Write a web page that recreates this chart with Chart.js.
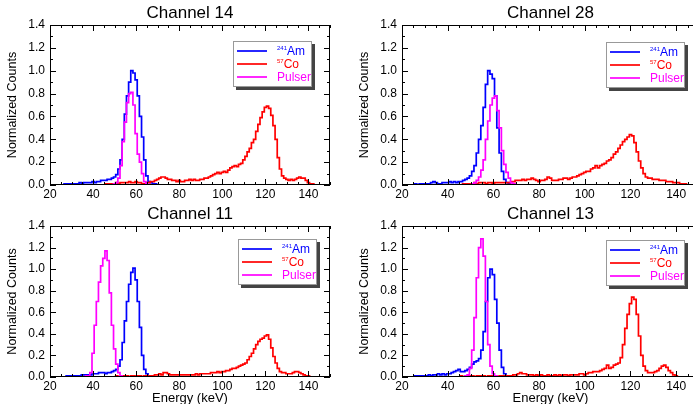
<!DOCTYPE html>
<html>
<head>
<meta charset="utf-8">
<script src="https://cdn.jsdelivr.net/npm/chart.js@4.4.0/dist/chart.umd.min.js"></script>
<style>
    html, body { margin: 0; padding: 0; background: #fff; overflow: hidden; width: 693px; height: 404px; }
    .painel { position: absolute; }
</style>
</head>
<body>
<canvas id="c14" class="painel" width="343" height="200" style="left:0;top:0"></canvas>
<canvas id="c28" class="painel" width="360" height="200" style="left:343px;top:0"></canvas>
<canvas id="c11" class="painel" width="343" height="204" style="left:0;top:200px"></canvas>
<canvas id="c13" class="painel" width="360" height="204" style="left:343px;top:200px"></canvas>
<script>
// tick labels
const xTicks = [20, 40, 60, 80, 100, 120, 140];
const yTicks = [0.0, 0.2, 0.4, 0.6, 0.8, 1.0, 1.2, 1.4];
const seriesNames = ['241|Am', '57|Co', '|Pulser'];

// histograms, 1 keV bins, first value is the bin at *Start keV
// Channel 14
const am14Start = 25;
const am14 = [0.00, 0.00, 0.01, 0.01, 0.01, 0.01, 0.01, 0.01, 0.01, 0.02, 0.01, 0.02, 0.02, 0.02, 0.02, 0.03, 0.02, 0.03, 0.03, 0.04,
    0.04, 0.04, 0.05, 0.05, 0.06, 0.07, 0.09, 0.14, 0.22, 0.40, 0.62, 0.78, 0.90, 1.00, 0.98, 0.92, 0.78, 0.60, 0.42, 0.22,
    0.08, 0.03, 0.02, 0.01, 0.01, 0.00];
const co14Start = 45;
const co14 = [0.00, 0.01, 0.01, 0.01, 0.01, 0.01, 0.02, 0.01, 0.02, 0.02, 0.02, 0.02, 0.03, 0.02, 0.02, 0.03, 0.02, 0.02, 0.01, 0.01,
    0.02, 0.02, 0.03, 0.03, 0.04, 0.05, 0.06, 0.07, 0.07, 0.06, 0.05, 0.05, 0.04, 0.04, 0.03, 0.04, 0.03, 0.03, 0.04, 0.04,
    0.05, 0.04, 0.05, 0.04, 0.04, 0.05, 0.05, 0.06, 0.06, 0.07, 0.08, 0.09, 0.10, 0.11, 0.10, 0.11, 0.12, 0.11, 0.13, 0.15,
    0.16, 0.17, 0.16, 0.18, 0.19, 0.22, 0.25, 0.29, 0.32, 0.37, 0.40, 0.47, 0.53, 0.59, 0.64, 0.68, 0.69, 0.67, 0.61, 0.52,
    0.40, 0.24, 0.14, 0.08, 0.06, 0.05, 0.04, 0.05, 0.04, 0.05, 0.06, 0.07, 0.06, 0.06, 0.04, 0.02, 0.01, 0.01, 0.00, 0.00, 0.00];
const pul14Start = 45;
const pul14 = [0.00, 0.00, 0.00, 0.00, 0.00, 0.01, 0.02, 0.06, 0.17, 0.38, 0.55, 0.72, 0.80, 0.81, 0.70, 0.45, 0.27, 0.20, 0.10, 0.03,
    0.01, 0.00];

// Channel 28
const am28Start = 25;
const am28 = [0.00, 0.01, 0.00, 0.01, 0.01, 0.01, 0.01, 0.01, 0.02, 0.03, 0.02, 0.01, 0.01, 0.02, 0.02, 0.02, 0.03, 0.02, 0.03, 0.02,
    0.03, 0.03, 0.04, 0.05, 0.06, 0.08, 0.12, 0.17, 0.28, 0.40, 0.52, 0.68, 0.88, 1.00, 0.97, 0.93, 0.78, 0.50, 0.28, 0.12,
    0.05, 0.02, 0.01, 0.00];
const co28Start = 45;
const co28 = [0.00, 0.00, 0.01, 0.01, 0.01, 0.01, 0.01, 0.02, 0.01, 0.02, 0.02, 0.02, 0.01, 0.02, 0.02, 0.01, 0.02, 0.02, 0.02, 0.02,
    0.02, 0.02, 0.02, 0.03, 0.03, 0.04, 0.04, 0.04, 0.05, 0.04, 0.05, 0.05, 0.06, 0.05, 0.04, 0.03, 0.04, 0.04, 0.05, 0.07,
    0.06, 0.04, 0.04, 0.04, 0.05, 0.05, 0.06, 0.06, 0.05, 0.06, 0.07, 0.07, 0.08, 0.09, 0.10, 0.11, 0.12, 0.12, 0.14, 0.15,
    0.17, 0.15, 0.17, 0.18, 0.19, 0.21, 0.22, 0.24, 0.27, 0.29, 0.32, 0.35, 0.38, 0.40, 0.42, 0.44, 0.43, 0.37, 0.29, 0.21,
    0.15, 0.10, 0.07, 0.06, 0.06, 0.05, 0.05, 0.05, 0.04, 0.04, 0.04, 0.03, 0.03, 0.03, 0.02, 0.02, 0.02, 0.01, 0.01, 0.01,
    0.00, 0.00, 0.00];
const pul28Start = 48;
const pul28 = [0.00, 0.00, 0.00, 0.01, 0.02, 0.04, 0.07, 0.13, 0.22, 0.40, 0.56, 0.70, 0.76, 0.78, 0.65, 0.50, 0.30, 0.18, 0.11, 0.06,
    0.02, 0.01, 0.00];

// Channel 11
const am11Start = 25;
const am11 = [0.00, 0.00, 0.00, 0.01, 0.01, 0.01, 0.01, 0.01, 0.01, 0.01, 0.02, 0.02, 0.02, 0.02, 0.02, 0.03, 0.03, 0.03, 0.04, 0.04,
    0.04, 0.03, 0.04, 0.04, 0.05, 0.06, 0.07, 0.10, 0.16, 0.32, 0.52, 0.70, 0.86, 0.97, 1.01, 0.90, 0.70, 0.46, 0.20, 0.07,
    0.03, 0.01, 0.00];
const co11Start = 45;
const co11 = [0.00, 0.00, 0.00, 0.00, 0.00, 0.00, 0.01, 0.00, 0.00, 0.01, 0.00, 0.01, 0.00, 0.01, 0.01, 0.00, 0.01, 0.01, 0.00, 0.01,
    0.01, 0.01, 0.01, 0.01, 0.02, 0.02, 0.03, 0.02, 0.04, 0.04, 0.03, 0.02, 0.02, 0.02, 0.02, 0.02, 0.02, 0.02, 0.02, 0.02,
    0.02, 0.02, 0.02, 0.03, 0.02, 0.03, 0.03, 0.03, 0.03, 0.03, 0.04, 0.04, 0.04, 0.05, 0.04, 0.05, 0.05, 0.06, 0.06, 0.07,
    0.08, 0.08, 0.09, 0.10, 0.11, 0.12, 0.13, 0.16, 0.19, 0.22, 0.26, 0.30, 0.33, 0.35, 0.36, 0.38, 0.39, 0.35, 0.27, 0.19,
    0.13, 0.08, 0.05, 0.04, 0.04, 0.03, 0.03, 0.03, 0.04, 0.05, 0.05, 0.04, 0.03, 0.02, 0.01, 0.01, 0.00, 0.00];
const pul11Start = 34;
const pul11 = [0.00, 0.00, 0.00, 0.01, 0.01, 0.04, 0.22, 0.48, 0.70, 0.88, 1.03, 1.10, 1.17, 1.08, 0.78, 0.48, 0.26, 0.12, 0.04, 0.01,
    0.00];

// Channel 13
const am13Start = 25;
const am13 = [0.01, 0.01, 0.01, 0.01, 0.01, 0.01, 0.01, 0.02, 0.01, 0.02, 0.02, 0.03, 0.02, 0.03, 0.02, 0.03, 0.03, 0.04, 0.05, 0.06,
    0.07, 0.05, 0.05, 0.06, 0.07, 0.09, 0.12, 0.14, 0.15, 0.17, 0.25, 0.42, 0.70, 0.92, 1.00, 0.95, 0.72, 0.50, 0.25, 0.09,
    0.03, 0.01, 0.00];
const co13Start = 45;
const co13 = [0.00, 0.01, 0.00, 0.01, 0.01, 0.01, 0.01, 0.00, 0.01, 0.01, 0.01, 0.01, 0.00, 0.01, 0.01, 0.01, 0.01, 0.00, 0.01, 0.01,
    0.01, 0.01, 0.01, 0.01, 0.02, 0.02, 0.03, 0.04, 0.03, 0.03, 0.02, 0.02, 0.02, 0.01, 0.02, 0.01, 0.02, 0.01, 0.01, 0.02,
    0.01, 0.01, 0.02, 0.01, 0.02, 0.01, 0.02, 0.02, 0.01, 0.02, 0.02, 0.02, 0.02, 0.03, 0.03, 0.02, 0.03, 0.04, 0.04, 0.05,
    0.05, 0.05, 0.06, 0.07, 0.08, 0.11, 0.08, 0.09, 0.11, 0.12, 0.13, 0.18, 0.30, 0.45, 0.58, 0.68, 0.74, 0.72, 0.58, 0.38,
    0.20, 0.10, 0.06, 0.04, 0.04, 0.04, 0.05, 0.06, 0.08, 0.10, 0.11, 0.09, 0.06, 0.04, 0.02, 0.01, 0.00, 0.00];
const pul13Start = 44;
const pul13 = [0.00, 0.00, 0.00, 0.00, 0.01, 0.02, 0.08, 0.25, 0.55, 0.92, 1.20, 1.28, 1.12, 0.70, 0.30, 0.10, 0.03, 0.01, 0.00];

const cores = ['#0000ff', '#ff0000', '#ff00ff'];
const fonte = 'Helvetica, Arial, "Liberation Sans", sans-serif';

const paineis = [
    { id: 'c14', titulo: 'Channel 14', eixoX: false, area: { left: 50, top: 25, right: 330, bottom: 185 }, legenda: { x: 233, y: 41 },
      series: [[am14Start, am14], [co14Start, co14], [pul14Start, pul14]] },
    { id: 'c28', titulo: 'Channel 28', eixoX: false, area: { left: 59, top: 25, right: 356, bottom: 185 }, legenda: { x: 263, y: 42 },
      series: [[am28Start, am28], [co28Start, co28], [pul28Start, pul28]] },
    { id: 'c11', titulo: 'Channel 11', eixoX: true, area: { left: 50, top: 26, right: 330, bottom: 177 }, legenda: { x: 238, y: 39 },
      series: [[am11Start, am11], [co11Start, co11], [pul11Start, pul11]] },
    { id: 'c13', titulo: 'Channel 13', eixoX: true, area: { left: 59, top: 26, right: 356, bottom: 177 }, legenda: { x: 263, y: 40 },
      series: [[am13Start, am13], [co13Start, co13], [pul13Start, pul13]] }
];

function paraPontos(inicio, valores) {
    return valores.map((v, i) => ({ x: inicio + i, y: v }));
}

function criarMoldura(painel) {
    return {
        id: 'moldura',
        afterDraw(chart) {
            const { ctx, chartArea: a, scales: { x, y } } = chart;
            ctx.save();
            ctx.strokeStyle = '#000';
            ctx.lineWidth = 1;
            ctx.strokeRect(Math.round(a.left) + 0.5, Math.round(a.top) + 0.5, Math.round(a.right - a.left) - 1, Math.round(a.bottom - a.top) - 1);

            // ticks pointing inward on all four sides
            ctx.beginPath();
            for (let v = 20; v <= 150; v += 5) {
                const px = Math.round(x.getPixelForValue(v)) + 0.5;
                const len = xTicks.includes(v) ? 6 : 3;
                ctx.moveTo(px, a.bottom); ctx.lineTo(px, a.bottom - len);
                ctx.moveTo(px, a.top); ctx.lineTo(px, a.top + len);
            }
            for (let k = 0; k <= 14; k++) {
                const py = Math.round(y.getPixelForValue(k / 10)) + 0.5;
                const len = k % 2 == 0 ? 6 : 3;
                ctx.moveTo(a.left, py); ctx.lineTo(a.left + len, py);
                ctx.moveTo(a.right, py); ctx.lineTo(a.right - len, py);
            }
            ctx.stroke();

            // title and axis titles
            ctx.fillStyle = '#000';
            ctx.textAlign = 'center';
            ctx.textBaseline = 'middle';
            ctx.font = `17px ${fonte}`;
            ctx.fillText(painel.titulo, (a.left + a.right) / 2, a.top - 12);
            ctx.font = `12.5px ${fonte}`;
            ctx.save();
            ctx.translate(a.left - 37, (a.top + a.bottom) / 2);
            ctx.rotate(-Math.PI / 2);
            ctx.fillText('Normalized Counts', 0, 0);
            ctx.restore();
            if (painel.eixoX) {
                ctx.font = `13px ${fonte}`;
                ctx.fillText('Energy (keV)', (a.left + a.right) / 2, a.bottom + 21);
            }

            // legend box with shadow
            const L = painel.legenda;
            ctx.fillStyle = '#444';
            ctx.fillRect(L.x + 3, L.y + 3, 79, 46);
            ctx.fillStyle = '#fff';
            ctx.fillRect(L.x, L.y, 79, 46);
            ctx.strokeStyle = '#999';
            ctx.strokeRect(L.x + 0.5, L.y + 0.5, 78, 45);
            seriesNames.forEach((nome, i) => {
                const ly = L.y + 10 + i * 13;
                ctx.strokeStyle = cores[i];
                ctx.lineWidth = 1.7;
                ctx.beginPath();
                ctx.moveTo(L.x + 4, ly); ctx.lineTo(L.x + 34, ly);
                ctx.stroke();
                const [sup, txt] = nome.split('|');
                ctx.fillStyle = cores[i];
                ctx.textAlign = 'left';
                let tx = L.x + 44;
                if (sup) {
                    ctx.font = `6px ${fonte}`;
                    ctx.fillText(sup, tx, ly - 3);
                    tx += ctx.measureText(sup).width;
                }
                ctx.font = `12px ${fonte}`;
                ctx.fillText(txt, tx, ly + 1);
            });
            ctx.restore();
        }
    };
}

function desenharPainel(painel) {
    const canvas = document.getElementById(painel.id);
    const a = painel.area;
    const datasets = painel.series.map((s, i) => ({
        label: seriesNames[i],
        data: paraPontos(s[0], s[1]),
        borderColor: cores[i],
        borderWidth: 1.7,
        pointRadius: 0,
        stepped: 'middle',
        fill: false
    })).reverse(); // first dataset is drawn on top

    new Chart(canvas, {
        type: 'line',
        data: { datasets },
        options: {
            responsive: false,
            animation: false,
            events: [],
            layout: { padding: { left: 0, top: a.top, right: canvas.width - a.right, bottom: 0 } },
            plugins: { legend: { display: false }, title: { display: false }, tooltip: { enabled: false } },
            scales: {
                x: {
                    type: 'linear', min: 20, max: 150,
                    afterBuildTicks: ax => { ax.ticks = xTicks.map(v => ({ value: v })); },
                    afterFit: ax => { ax.height = canvas.height - a.bottom; },
                    grid: { display: false, drawTicks: false },
                    border: { display: false },
                    ticks: { autoSkip: false, maxRotation: 0, padding: 2, color: '#000', font: { family: fonte, size: 12 } }
                },
                y: {
                    type: 'linear', min: 0, max: 1.4,
                    afterBuildTicks: ax => { ax.ticks = yTicks.map(v => ({ value: v })); },
                    afterFit: ax => { ax.width = a.left; },
                    grid: { display: false, drawTicks: false },
                    border: { display: false },
                    ticks: { padding: 5, color: '#000', font: { family: fonte, size: 12 }, callback: v => v.toFixed(1) }
                }
            }
        },
        plugins: [criarMoldura(painel)]
    });
}

paineis.forEach(desenharPainel);
</script>
</body>
</html>
